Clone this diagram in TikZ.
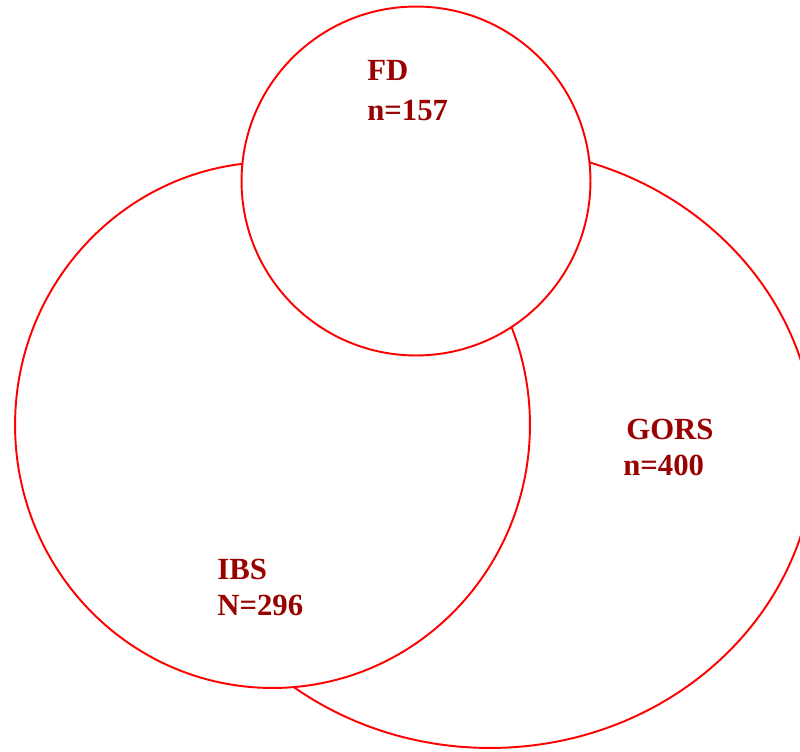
\documentclass[tikz,border=0pt]{standalone}
\usepackage{fontspec}
\setmainfont{Liberation Serif}
\usetikzlibrary{positioning}

\tikzset{
  venn/.style={draw=red, line width=1.1pt, fill=white},
  lbl/.style={text=red!60!black, font=\fontsize{17.5}{21}\selectfont\bfseries, anchor=base west, inner sep=0pt}
}

\begin{document}
\begin{tikzpicture}[x=0.02cm, y=-0.02cm]
  \clip (0,0) rectangle (800,751);

  % GORS (behind)
  \coordinate (gorsc) at (490,448);
  \draw[venn] (gorsc) ellipse [x radius=6.5cm, y radius=6cm];

  % IBS
  \coordinate (ibsc) at (272.5,425);
  \draw[venn] (ibsc) ellipse [x radius=5.15cm, y radius=5.26cm];

  % FD (on top)
  \coordinate (fdc) at (416,181);
  \draw[venn] (fdc) circle (3.49cm);

  % labels
  \node[lbl] (fd) at (367,80) {FD};
  \node[lbl] (fdn) at (367,120) {n=157};
  \node[lbl] (gors) at (626,439) {GORS};
  \node[lbl] (gorsn) at (623,475) {n=400};
  \node[lbl] (ibs) at (217,579) {IBS};
  \node[lbl] (ibsn) at (217,615) {N=296};
\end{tikzpicture}
\end{document}
